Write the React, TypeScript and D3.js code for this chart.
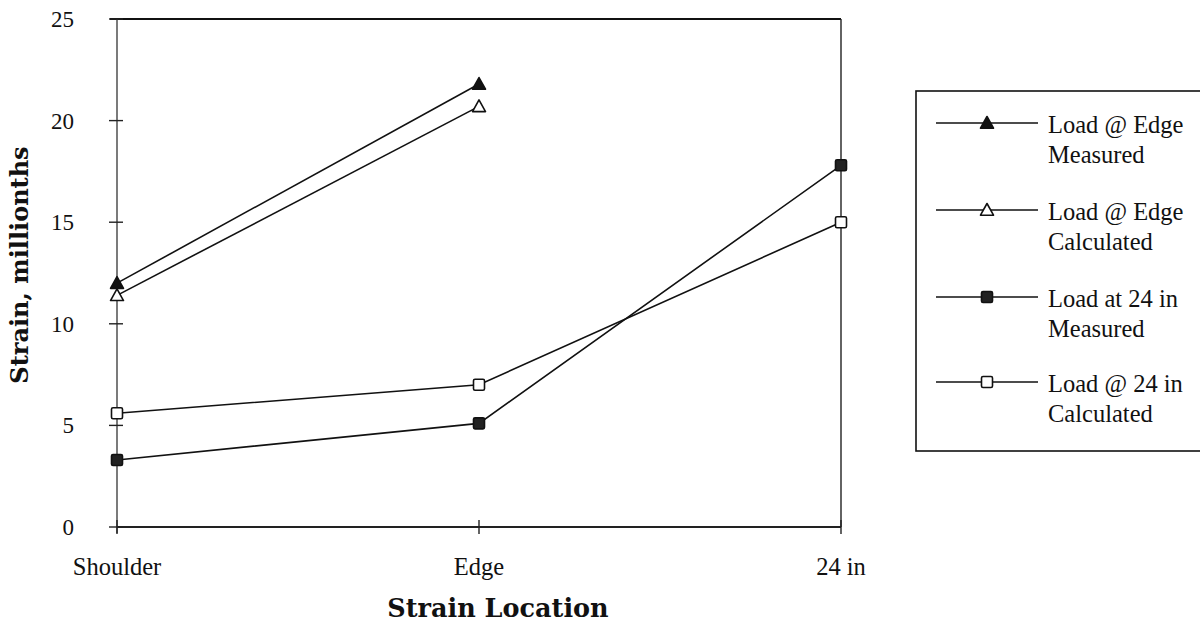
import React from "react";
import * as d3 from "d3";

// Strain at each gauge location for the two load positions
const categories = ["Shoulder", "Edge", "24 in"];
const edgeMeasured = [12.0, 21.8];
const edgeCalculated = [11.4, 20.7];
const at24Measured = [3.3, 5.1, 17.8];
const at24Calculated = [5.6, 7.0, 15.0];
const yTicks = [0, 5, 10, 15, 20, 25];

type Marker = "triFilled" | "triOpen" | "sqFilled" | "sqOpen";

const seriesList: { name: string[]; values: number[]; marker: Marker }[] = [
  { name: ["Load @ Edge", "Measured"], values: edgeMeasured, marker: "triFilled" },
  { name: ["Load @ Edge", "Calculated"], values: edgeCalculated, marker: "triOpen" },
  { name: ["Load at 24 in", "Measured"], values: at24Measured, marker: "sqFilled" },
  { name: ["Load @ 24 in", "Calculated"], values: at24Calculated, marker: "sqOpen" },
];

const W = 1200;
const H = 629;
const plot = { left: 117, right: 841, top: 19, bottom: 527 };

const x = d3.scalePoint<string>().domain(categories).range([plot.left, plot.right]).padding(0);
const y = d3.scaleLinear().domain([0, 25]).range([plot.bottom, plot.top]);

const REG = "'Liberation Serif', 'Times New Roman', serif";
const BOLD = "'DejaVu Serif', serif";

function MarkerShape({ kind, cx, cy }: { kind: Marker; cx: number; cy: number }) {
  if (kind === "triFilled" || kind === "triOpen") {
    const s = 6.5;
    const pts = `${cx},${cy - s} ${cx + s},${cy + s * 0.8} ${cx - s},${cy + s * 0.8}`;
    return (
      <polygon
        points={pts}
        fill={kind === "triFilled" ? "#111" : "#fff"}
        stroke="#111"
        strokeWidth={1.6}
        strokeLinejoin="round"
      />
    );
  }
  const s = 5.5;
  return (
    <rect
      x={cx - s}
      y={cy - s}
      width={2 * s}
      height={2 * s}
      rx={1.5}
      fill={kind === "sqFilled" ? "#222" : "#fff"}
      stroke="#111"
      strokeWidth={1.6}
    />
  );
}

export default function App() {
  const line = d3
    .line<number>()
    .x((_, i) => x(categories[i]) as number)
    .y((v) => y(v));

  const legend = { left: 916, top: 91, right: 1206, bottom: 451 };
  const entryY = [123, 210, 297, 382];

  return (
    <svg
      width={W}
      height={H}
      style={{ position: "absolute", left: 0, top: 0, background: "#fff" }}
      fontFamily={REG}
    >
      <rect width={W} height={H} fill="#fff" />

      {/* frame */}
      <line x1={plot.left - 7} x2={plot.right} y1={plot.top} y2={plot.top} stroke="#111" strokeWidth={2.2} />
      <line x1={plot.right} x2={plot.right} y1={plot.top} y2={plot.bottom} stroke="#222" strokeWidth={1.4} />
      <line x1={plot.left} x2={plot.left} y1={plot.top} y2={plot.bottom + 6} stroke="#333" strokeWidth={1.3} />
      <line x1={plot.left} x2={plot.right} y1={plot.bottom} y2={plot.bottom} stroke="#222" strokeWidth={1.8} />

      {/* y ticks */}
      {yTicks.map((t) => (
        <g key={t}>
          <line x1={plot.left - 8} x2={plot.left + 6} y1={y(t)} y2={y(t)} stroke="#222" strokeWidth={1.4} />
          <text x={74} y={y(t)} dy="0.35em" textAnchor="end" fontSize={23} fill="#111">
            {t}
          </text>
        </g>
      ))}

      {/* x ticks */}
      {categories.map((c) => (
        <g key={c}>
          <line x1={x(c)} x2={x(c)} y1={plot.bottom - 7} y2={plot.bottom + 7} stroke="#222" strokeWidth={1.4} />
          <text x={x(c)} y={575} textAnchor="middle" fontSize={24.5} fill="#111">
            {c}
          </text>
        </g>
      ))}

      {/* series */}
      {seriesList.map((s, si) => (
        <g key={si}>
          <path d={line(s.values) || ""} fill="none" stroke="#111" strokeWidth={1.6} />
          {s.values.map((v, i) => (
            <MarkerShape key={i} kind={s.marker} cx={x(categories[i]) as number} cy={y(v)} />
          ))}
        </g>
      ))}

      {/* axis titles */}
      <text x={498} y={617} textAnchor="middle" fontFamily={BOLD} fontWeight="bold" fontSize={25.5} fill="#111">
        Strain Location
      </text>
      <text
        transform={`translate(28,265) rotate(-90)`}
        textAnchor="middle"
        fontFamily={BOLD}
        fontWeight="bold"
        fontSize={24}
        fill="#111"
      >
        Strain, millionths
      </text>

      {/* legend */}
      <rect
        x={legend.left}
        y={legend.top}
        width={legend.right - legend.left}
        height={legend.bottom - legend.top}
        fill="#fff"
        stroke="#111"
        strokeWidth={1.6}
      />
      {seriesList.map((s, i) => (
        <g key={i}>
          <line x1={936} x2={1038} y1={entryY[i]} y2={entryY[i]} stroke="#111" strokeWidth={1.6} />
          <MarkerShape kind={s.marker} cx={987} cy={entryY[i]} />
          <text x={1048} y={entryY[i] + 10} fontSize={24.5} fill="#111">
            {s.name[0]}
          </text>
          <text x={1048} y={entryY[i] + 40} fontSize={24.5} fill="#111">
            {s.name[1]}
          </text>
        </g>
      ))}
    </svg>
  );
}
